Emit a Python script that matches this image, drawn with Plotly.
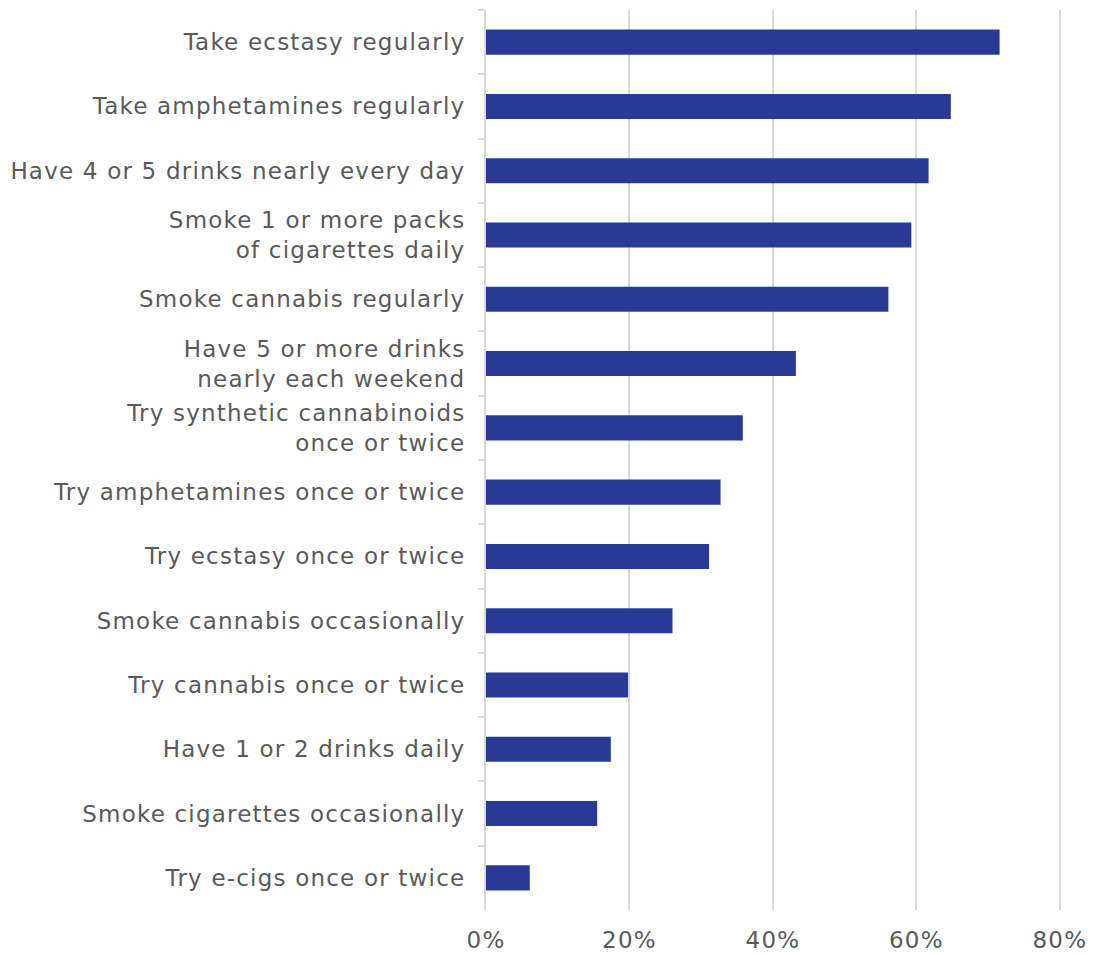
import plotly.graph_objects as go

# Share of respondents seeing great risk in each behaviour (top to bottom)
categories = [
    "Take ecstasy regularly",
    "Take amphetamines regularly",
    "Have 4 or 5 drinks nearly every day",
    "Smoke 1 or more packs<br>of cigarettes daily",
    "Smoke cannabis regularly",
    "Have 5 or more drinks<br>nearly each weekend",
    "Try synthetic cannabinoids<br>once or twice",
    "Try amphetamines once or twice",
    "Try ecstasy once or twice",
    "Smoke cannabis occasionally",
    "Try cannabis once or twice",
    "Have 1 or 2 drinks daily",
    "Smoke cigarettes occasionally",
    "Try e-cigs once or twice",
]
values = [0.716, 0.648, 0.617, 0.593, 0.561, 0.432, 0.358, 0.327, 0.311, 0.260, 0.198, 0.174, 0.155, 0.061]

x_ticks = [0, 0.2, 0.4, 0.6, 0.8]
x_tick_labels = ["0%", "20%", "40%", "60%", "80%"]

BAR = "#283a95"
TEXT = "#595959"
GRID = "#d9d9d9"
FONT = "DejaVu Sans"

fig = go.Figure(
    go.Bar(
        x=values,
        y=categories,
        orientation="h",
        marker=dict(color=BAR, line=dict(width=0)),
        width=0.39,
        hoverinfo="x+y",
    )
)

fig.update_layout(
    width=1098,
    height=955,
    margin=dict(l=486, r=36, t=10, b=45),
    paper_bgcolor="white",
    plot_bgcolor="white",
    font=dict(family=FONT, size=23, color=TEXT),
    showlegend=False,
)

# A hair of headroom past 80% so its gridline is kept
fig.update_xaxes(
    range=[0, 0.803],
    tickvals=x_ticks,
    ticktext=x_tick_labels,
    showgrid=True,
    gridcolor=GRID,
    gridwidth=2,
    zeroline=False,
    showline=False,
    ticks="",
    ticklabelstandoff=14,
    automargin=False,
    tickfont=dict(family=FONT, size=23, color=TEXT),
)

fig.update_yaxes(
    autorange="reversed",
    showline=True,
    linecolor=GRID,
    linewidth=2,
    ticks="outside",
    tickson="boundaries",
    ticklen=6,
    tickwidth=2,
    tickcolor=GRID,
    ticklabelstandoff=14,
    automargin=False,
    showgrid=False,
    tickfont=dict(family=FONT, size=23, color=TEXT),
)

# Loosen the tracking of the axis labels a little
spacing_js = """
var gd = document.getElementsByClassName('plotly-graph-div')[0];
function track() {
  gd.querySelectorAll('.xtick text, .ytick text').forEach(function (t) {
    t.style.letterSpacing = '1.2px';
  });
}
track();
gd.on('plotly_afterplot', track);
"""

fig.write_html("out.html", post_script=spacing_js)
